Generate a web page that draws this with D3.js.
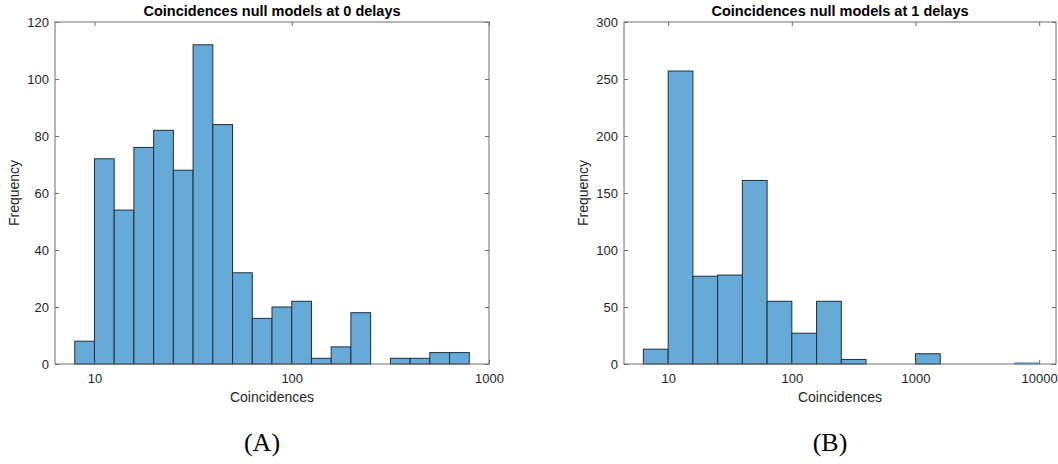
<!DOCTYPE html>
<html>
<head>
<meta charset="utf-8">
<script src="https://cdn.jsdelivr.net/npm/d3@7"></script>
<style>
  body { margin: 0; background: #fff; }
  svg { display: block; }
  .tick text { font-family: "Liberation Sans", Arial, sans-serif; font-size: 13px; fill: #262626; }
  .tick line { stroke: #6e6e6e; }
</style>
</head>
<body>
<div id="chart"></div>
<script>
// histogram (A): log10 bin edges 0.9..2.9 step 0.1
const binsA = [0.9, 1.0, 1.1, 1.2, 1.3, 1.4, 1.5, 1.6, 1.7, 1.8, 1.9, 2.0, 2.1, 2.2, 2.3, 2.4, 2.5, 2.6, 2.7, 2.8, 2.9];
const countsA = [8, 72, 54, 76, 82, 68, 112, 84, 32, 16, 20, 22, 2, 6, 18, 0, 2, 2, 4, 4];
const xTicksA = [10, 100, 1000];
const yTicksA = [0, 20, 40, 60, 80, 100, 120];

// histogram (B): log10 bin edges 0.8..4.0 step 0.2
const binsB = [0.8, 1.0, 1.2, 1.4, 1.6, 1.8, 2.0, 2.2, 2.4, 2.6, 2.8, 3.0, 3.2, 3.4, 3.6, 3.8, 4.0];
const countsB = [13, 257, 77, 78, 161, 55, 27, 55, 4, 0, 0, 9, 0, 0, 0, 1];
const xTicksB = [10, 100, 1000, 10000];
const yTicksB = [0, 50, 100, 150, 200, 250, 300];

const titles = ["Coincidences null models at 0 delays", "Coincidences null models at 1 delays"];
const panelLabels = ["(A)", "(B)"];

const svg = d3.select("#chart").append("svg")
  .attr("width", 1058)
  .attr("height", 464);

function drawPanel(cfg) {
  const {left, right, top, bottom, xDomain, yMax, bins, counts, xTicks, yTicks, title, label, labelX} = cfg;

  const x = d3.scaleLog().domain(xDomain).range([left, right]);
  const y = d3.scaleLinear().domain([0, yMax]).range([bottom, top]);

  const g = svg.append("g");

  const data = counts.map((c, i) => ({
    x0: Math.pow(10, bins[i]),
    x1: Math.pow(10, bins[i + 1]),
    count: c
  })).filter(d => d.count > 0);

  g.selectAll("rect.bar")
    .data(data)
    .enter()
    .append("rect")
    .attr("class", "bar")
    .attr("x", d => x(d.x0))
    .attr("width", d => x(d.x1) - x(d.x0))
    .attr("y", d => y(d.count))
    .attr("height", d => y(0) - y(d.count))
    .attr("fill", "#66aad7")
    .attr("stroke", d => d.count < 2 ? "#66aad7" : "#1f2f3c")
    .attr("stroke-width", 1);

  // axes, ticks pointing inward on all four sides
  const fmt = d3.format("d");
  g.append("g")
    .attr("transform", `translate(0,${bottom})`)
    .call(d3.axisBottom(x).tickValues(xTicks).tickFormat(fmt).tickSize(-4).tickPadding(10))
    .call(a => a.select(".domain").remove());
  g.append("g")
    .attr("transform", `translate(0,${top})`)
    .call(d3.axisTop(x).tickValues(xTicks).tickFormat("").tickSize(-4))
    .call(a => a.select(".domain").remove());
  g.append("g")
    .attr("transform", `translate(${left},0)`)
    .call(d3.axisLeft(y).tickValues(yTicks).tickSize(-4).tickPadding(6))
    .call(a => a.select(".domain").remove());
  g.append("g")
    .attr("transform", `translate(${right},0)`)
    .call(d3.axisRight(y).tickValues(yTicks).tickFormat("").tickSize(-4))
    .call(a => a.select(".domain").remove());

  // box
  g.append("rect")
    .attr("x", left)
    .attr("y", top)
    .attr("width", right - left)
    .attr("height", bottom - top)
    .attr("fill", "none")
    .attr("stroke", "#6e6e6e")
    .attr("stroke-width", 1);

  g.append("text")
    .attr("x", (left + right) / 2)
    .attr("y", 16)
    .attr("text-anchor", "middle")
    .attr("font-family", "Liberation Sans, Arial, sans-serif")
    .attr("font-size", 14.5)
    .attr("font-weight", "bold")
    .attr("fill", "#000")
    .text(title);

  g.append("text")
    .attr("x", (left + right) / 2)
    .attr("y", 402)
    .attr("text-anchor", "middle")
    .attr("font-family", "Liberation Sans, Arial, sans-serif")
    .attr("font-size", 14)
    .attr("fill", "#262626")
    .text("Coincidences");

  g.append("text")
    .attr("transform", `translate(${left - 36},${(top + bottom) / 2}) rotate(-90)`)
    .attr("text-anchor", "middle")
    .attr("font-family", "Liberation Sans, Arial, sans-serif")
    .attr("font-size", 14)
    .attr("fill", "#262626")
    .text("Frequency");

  g.append("text")
    .attr("x", labelX)
    .attr("y", 451)
    .attr("text-anchor", "middle")
    .attr("font-family", "Liberation Serif, Times New Roman, serif")
    .attr("font-size", 26)
    .attr("fill", "#000")
    .text(label);
}

drawPanel({
  left: 55, right: 489, top: 22, bottom: 364,
  xDomain: [Math.pow(10, 0.8), 1000], yMax: 120,
  bins: binsA, counts: countsA, xTicks: xTicksA, yTicks: yTicksA,
  title: titles[0], label: panelLabels[0], labelX: 262
});

drawPanel({
  left: 624, right: 1056, top: 22, bottom: 364,
  xDomain: [Math.pow(10, 0.643), Math.pow(10, 4.136)], yMax: 300,
  bins: binsB, counts: countsB, xTicks: xTicksB, yTicks: yTicksB,
  title: titles[1], label: panelLabels[1], labelX: 830
});
</script>
</body>
</html>
